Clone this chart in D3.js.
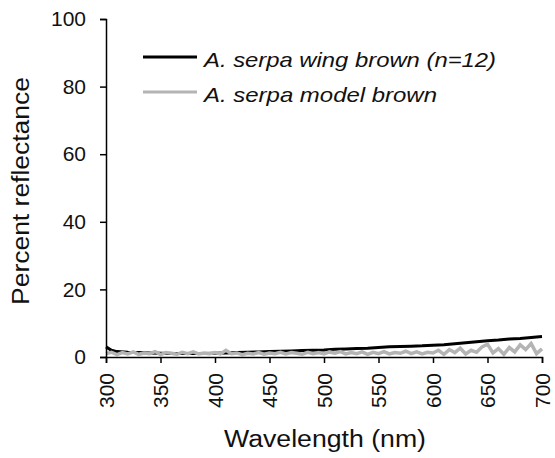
<!DOCTYPE html>
<html><head><meta charset="utf-8">
<script src="https://cdn.jsdelivr.net/npm/d3@7"></script>
<style>body{margin:0;background:#fff}svg text{font-family:"Liberation Sans",Arial,sans-serif}</style>
</head><body>
<script>
const wavelengthsBlack = [300,305,310,320,330,340,350,360,370,380,390,400,410,420,430,440,450,460,470,480,490,500,510,520,530,540,550,560,570,580,590,600,610,620,630,640,650,660,670,680,690,700];
const wingBrown = [3.0,2.0,1.6,1.4,1.3,1.2,1.1,1.0,1.0,1.0,1.0,1.1,1.2,1.3,1.4,1.5,1.6,1.7,1.8,1.9,2.0,2.1,2.3,2.4,2.5,2.6,2.8,3.0,3.1,3.2,3.3,3.5,3.6,3.9,4.2,4.5,4.8,5.0,5.3,5.5,5.8,6.1];
const wavelengthsGrey = d3.range(300, 701, 5);
const modelBrown = [1.0,1.4,0.7,1.3,0.9,1.5,0.8,1.2,1.0,1.6,0.7,1.3,1.1,0.8,1.4,1.0,1.5,0.9,1.2,1.0,1.3,0.9,2.0,1.0,1.2,0.7,1.1,0.9,1.3,0.8,1.2,1.0,1.4,0.9,1.3,1.1,0.8,1.4,1.0,1.3,0.9,1.5,1.1,1.6,0.9,1.3,1.0,1.5,0.8,1.4,1.0,1.6,0.9,1.3,1.1,1.7,1.0,1.5,0.9,1.4,1.2,2.0,0.8,2.2,1.3,2.6,0.9,2.0,1.4,3.0,3.8,1.2,2.5,0.8,2.8,1.5,3.6,2.2,4.0,1.0,2.4];
const xTicks = [300,350,400,450,500,550,600,650,700];
const yTicks = [0,20,40,60,80,100];
const seriesNames = ["A. serpa wing brown (n=12)", "A. serpa model brown"];
const seriesColors = ["#000000", "#b4b4b4"];

const W = 555, H = 458;
const svg = d3.select("body").append("svg").attr("width", W).attr("height", H);
const x = d3.scaleLinear().domain([300,700]).range([106,542]);
const y = d3.scaleLinear().domain([0,100]).range([357,19]);

const line = d3.line().x(d=>x(d[0])).y(d=>y(d[1]));
svg.append("path").datum(wavelengthsBlack.map((w,i)=>[w,wingBrown[i]]))
  .attr("d", line).attr("fill","none").attr("stroke",seriesColors[0]).attr("stroke-width",3);
svg.append("path").datum(wavelengthsGrey.map((w,i)=>[w,modelBrown[i]]))
  .attr("d", line).attr("fill","none").attr("stroke",seriesColors[1]).attr("stroke-width",3.5);

// axes
const yAxis = svg.append("g").attr("transform","translate(106,0)")
  .call(d3.axisLeft(y).tickValues(yTicks).tickSize(6).tickPadding(14));
const xAxis = svg.append("g").attr("transform","translate(0,357)")
  .call(d3.axisBottom(x).tickValues(xTicks).tickSize(6));
[yAxis,xAxis].forEach(a=>{
  a.select(".domain").attr("stroke","#000").attr("stroke-width",1.5);
  a.selectAll(".tick line").attr("stroke","#000").attr("stroke-width",1.5);
  a.selectAll("text").attr("font-size",21).attr("fill","#111").style("font-family","Liberation Sans, Arial, sans-serif");
});
xAxis.selectAll(".tick text")
  .attr("transform","rotate(-90)").attr("text-anchor","end")
  .attr("x",-16).attr("y",0).attr("dy","0.35em");

// axis titles
svg.append("text").attr("x",325).attr("y",447).attr("text-anchor","middle")
  .attr("font-size",23).attr("fill","#111").attr("textLength",202).attr("lengthAdjust","spacingAndGlyphs")
  .text("Wavelength (nm)");
svg.append("text").attr("transform","translate(29,191) rotate(-90)").attr("text-anchor","middle")
  .attr("font-size",23).attr("fill","#111").attr("textLength",228).attr("lengthAdjust","spacingAndGlyphs")
  .text("Percent reflectance");

// legend
const legY = [57, 92];
const legLen = [292, 233];
seriesNames.forEach((n,i)=>{
  svg.append("line").attr("x1",143).attr("x2",197).attr("y1",legY[i]).attr("y2",legY[i])
    .attr("stroke",seriesColors[i]).attr("stroke-width",3);
  svg.append("text").attr("x",204).attr("y",legY[i]+10).attr("fill","#111")
    .attr("font-size",21).attr("font-style","italic")
    .attr("textLength",legLen[i]).attr("lengthAdjust","spacingAndGlyphs").text(n);
});
</script>
</body></html>
